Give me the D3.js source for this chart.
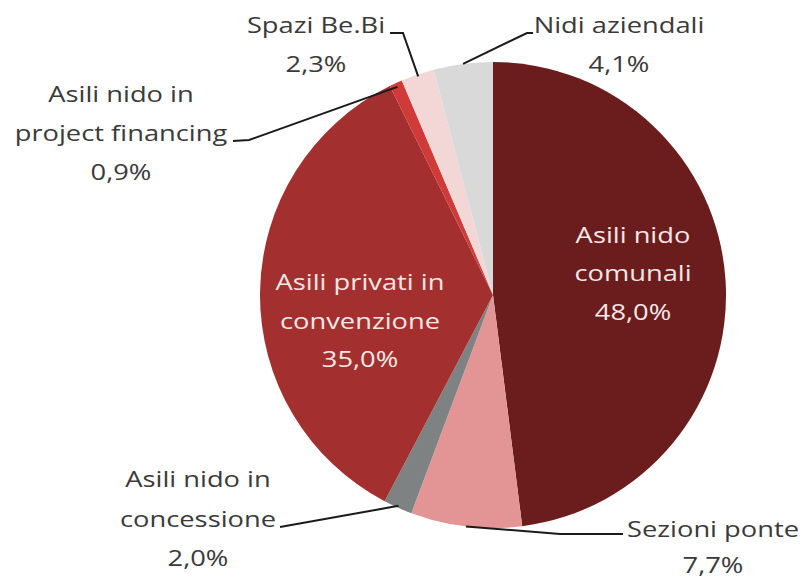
<!DOCTYPE html>
<html><head><meta charset="utf-8">
<script src="https://cdn.jsdelivr.net/npm/d3@7"></script>
<style>body{margin:0;background:#fff}svg{display:block}</style>
</head><body>
<svg id="c" width="806" height="581"></svg>
<script>
const categories = ["Asili nido comunali","Sezioni ponte","Asili nido in concessione","Asili privati in convenzione","Asili nido in project financing","Spazi Be.Bi","Nidi aziendali"];
const values = [48.0, 7.7, 2.0, 35.0, 0.9, 2.3, 4.1];
const labelLines = [["Asili nido","comunali"],["Sezioni ponte"],["Asili nido in","concessione"],["Asili privati in","convenzione"],["Asili nido in","project financing"],["Spazi Be.Bi"],["Nidi aziendali"]];
const colors = ["#6b1c1d","#e39595","#7f8282","#a3302e","#d03a38","#f3d6d6","#d9d9d9"];

const svg = d3.select("#c");
const cx = 493, cy = 295, r = 233;
const pie = d3.pie().sort(null).value(d => d)(values);
const arc = d3.arc().innerRadius(0).outerRadius(r);
const g = svg.append("g").attr("transform", `translate(${cx},${cy})`);
g.selectAll("path").data(pie).join("path").attr("d", arc).attr("fill", (d,i) => colors[i]);

const fmt = v => d3.format(".1f")(v).replace(".", ",") + "%";
const font = "'Open Sans', sans-serif";
const fs = 21, sx = 1.3;

// label layout: centre x, baselines, colour
const layout = [
  {x: 633, ys: [243, 281, 320], fill: "#f6e6e6"},
  {x: 713, ys: [537, 573], fill: "#3a3a3a"},
  {x: 198, ys: [487, 527, 566], fill: "#3a3a3a"},
  {x: 360, ys: [290, 329, 367], fill: "#f6e6e6"},
  {x: 121, ys: [102, 141, 180], fill: "#3a3a3a"},
  {x: 316, ys: [33, 72], fill: "#3a3a3a"},
  {x: 619, ys: [33, 72], fill: "#3a3a3a"}
];
categories.forEach((c, i) => {
  const L = layout[i];
  const lines = labelLines[i].concat([fmt(values[i])]);
  const t = svg.append("text").attr("font-family", font).attr("font-size", fs)
    .attr("font-weight", 500)
    .attr("fill", L.fill).attr("text-anchor", "middle")
    .attr("transform", `translate(${L.x},0) scale(${sx},1)`);
  lines.forEach((s, k) => {
    t.append("tspan").attr("x", 0).attr("y", L.ys[k]).text(s);
  });
});

// leader lines: start on slice edge, then elbow points near labels
function edgePoint(i, frac, dr) {
  const d = pie[i];
  const a = d.startAngle + (d.endAngle - d.startAngle) * frac;
  return [cx + (r + dr) * Math.sin(a), cy - (r + dr) * Math.cos(a)];
}
const leaders = [
  {i: 1, f: 0.5, dr: 0, pts: [[560, 534], [623, 534]]},
  {i: 2, f: 0.5, dr: -2, pts: [[280, 527]]},
  {i: 4, f: 0.5, dr: -4, pts: [[249, 140], [233, 141]]},
  {i: 5, f: 0.5, dr: -2, pts: [[403, 33], [390, 33]]},
  {i: 6, f: 0.5, dr: 0, pts: [[527, 33], [533, 33]]}
];
leaders.forEach(L => {
  const pts = [edgePoint(L.i, L.f, L.dr)].concat(L.pts);
  svg.append("path").attr("d", d3.line()(pts)).attr("fill", "none")
    .attr("stroke", "#1a1a1a").attr("stroke-width", 2);
});
</script>
</body></html>
